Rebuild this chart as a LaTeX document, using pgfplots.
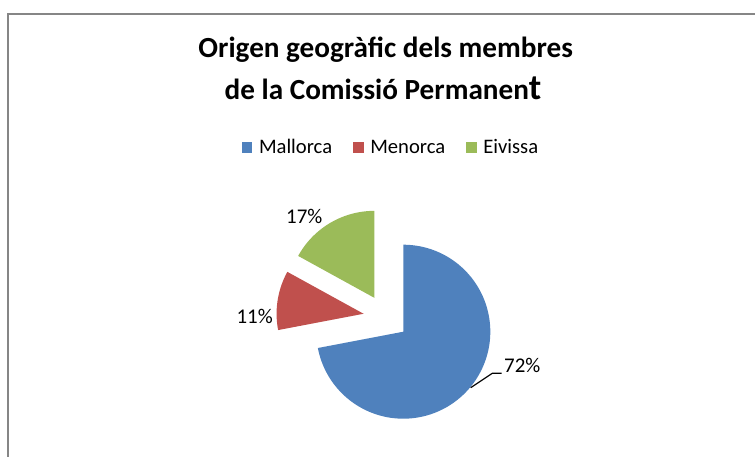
\documentclass[border=0pt]{standalone}
\usepackage{pgfplots}
\usepackage{pgfplotstable}
\usepackage{fontspec}
\setmainfont{Carlito}
\pgfplotsset{compat=1.18}

\definecolor{mblue}{RGB}{79,129,189}
\definecolor{mred}{RGB}{192,80,77}
\definecolor{mgreen}{RGB}{155,187,89}
\definecolor{frame}{RGB}{134,134,134}

% percentatges per illa
\pgfplotstableread{
name value
Mallorca 72
Menorca 11
Eivissa 17
}\piedata

% geometria del pastis (en pixels)
\def\cx{385.9}
\def\cy{317.3}
\def\R{87}
\def\dd{22.6}

\begin{document}
\begin{tikzpicture}
\useasboundingbox (0,0) rectangle (755bp,457bp);
\pgfplotstablegetelem{0}{value}\of\piedata \let\vA\pgfplotsretval
\pgfplotstablegetelem{1}{value}\of\piedata \let\vB\pgfplotsretval
\pgfplotstablegetelem{2}{value}\of\piedata \let\vC\pgfplotsretval
% angles, en sentit horari des de dalt
\pgfmathsetmacro\aO{90}
\pgfmathsetmacro\aA{\aO-3.6*\vA}
\pgfmathsetmacro\aB{\aA-3.6*\vB}
\pgfmathsetmacro\aC{\aB-3.6*\vC}
% vertex de cada porcio desplacada
\pgfmathsetmacro\pAx{\cx+\dd*cos((\aO+\aA)/2)}
\pgfmathsetmacro\pAy{\cy-\dd*sin((\aO+\aA)/2)}
\pgfmathsetmacro\pBx{\cx+\dd*cos((\aA+\aB)/2)}
\pgfmathsetmacro\pBy{\cy-\dd*sin((\aA+\aB)/2)}
\pgfmathsetmacro\pCx{\cx+\dd*cos((\aB+\aC)/2)}
\pgfmathsetmacro\pCy{\cy-\dd*sin((\aB+\aC)/2)}
\begin{axis}[
    at={(0,0)}, anchor=south west,
    scale only axis, width=755bp, height=457bp,
    xmin=0, xmax=755, ymin=0, ymax=457,
    y dir=reverse,
    hide axis, clip=false,
    legend columns=3,
    legend image code/.code={\fill[#1] (0bp,-5.25bp) rectangle (10.5bp,5.25bp);},
    legend style={draw=none, fill=none,
        at={(axis description cs:0.5166,0.6772)}, anchor=center,
        font=\fontsize{20.7}{21}\selectfont,
        nodes={inner sep=0pt},
        /tikz/every odd column/.append style={column sep=6.6bp},
        /tikz/every even column/.append style={column sep=21bp}},
  ]
  \addplot[fill=mblue, draw=none, domain=\aA:\aO, samples=140, variable=\t]
    ({\pAx+\R*cos(\t)}, {\pAy-\R*sin(\t)}) -- (axis cs:\pAx,\pAy);
  \addlegendentry{Mallorca}
  \addplot[fill=mred, draw=none, domain=\aB:\aA, samples=40, variable=\t]
    ({\pBx+\R*cos(\t)}, {\pBy-\R*sin(\t)}) -- (axis cs:\pBx,\pBy);
  \addlegendentry{Menorca}
  \addplot[fill=mgreen, draw=none, domain=\aC:\aB, samples=50, variable=\t]
    ({\pCx+\R*cos(\t)}, {\pCy-\R*sin(\t)}) -- (axis cs:\pCx,\pCy);
  \addlegendentry{Eivissa}

  % marc
  \draw[frame, line width=2bp] (axis cs:7.5,470) -- (axis cs:7.5,14.5) -- (axis cs:770,14.5);

  % titol
  \node[anchor=base, font=\bfseries\fontsize{29.3}{30}\selectfont, inner sep=0pt]
    at (axis cs:385.7,58) {Origen geogràfic dels membres};
  \node[anchor=base, font=\bfseries\fontsize{29.3}{30}\selectfont, inner sep=0pt]
    at (axis cs:383,99) {de la Comissió Permanen{\fontsize{36}{36}\selectfont t}};

  % etiquetes
  \draw[black, line width=1.2bp] (axis cs:470.7,387.7) -- (axis cs:492.3,373.3) -- (axis cs:501.7,373.3);
  \node[anchor=base west, inner sep=0pt, font=\fontsize{21}{21}\selectfont]
    at (axis cs:504,372.7) {\vA\%};
  \node[anchor=base east, inner sep=0pt, font=\fontsize{21}{21}\selectfont]
    at (axis cs:273,323.3) {\vB\%};
  \node[anchor=base west, inner sep=0pt, font=\fontsize{21}{21}\selectfont]
    at (axis cs:286,223.3) {\vC\%};
\end{axis}
\end{tikzpicture}
\end{document}
